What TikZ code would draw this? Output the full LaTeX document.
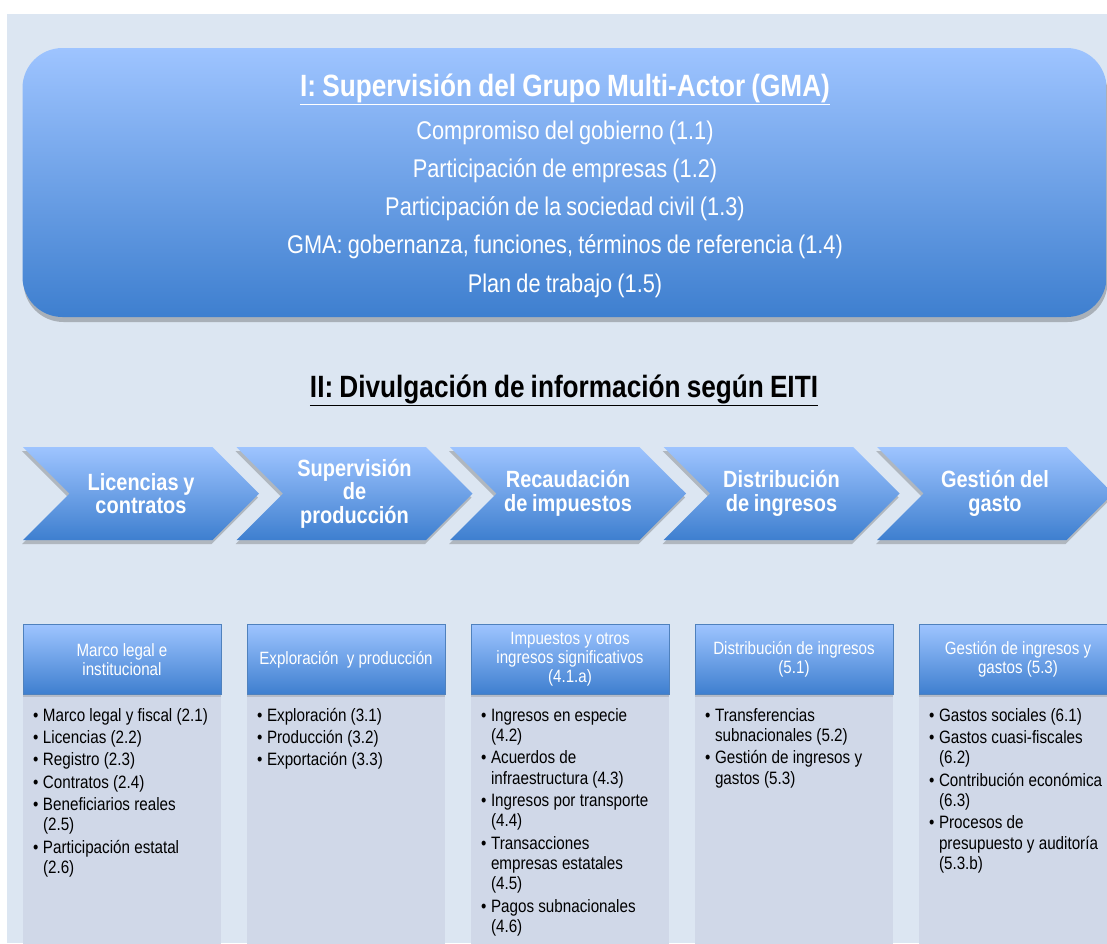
\documentclass[tikz,border=0pt]{standalone}
\usepackage{fontspec}
\setmainfont{Liberation Sans}[FakeStretch=0.85, WordSpace=0.85]
\usetikzlibrary{shapes.symbols, shadows, positioning}

\definecolor{pagebg}{RGB}{220,230,242}
\definecolor{colbg}{RGB}{208,216,232}
\definecolor{gradtop}{RGB}{158,196,255}
\definecolor{gradbot}{RGB}{62,127,207}
\definecolor{headline}{RGB}{79,129,189}

% one bullet item with hanging indent
\newcommand{\bul}[1]{\par\noindent\hangindent=10pt\hangafter=1\rightskip=0pt plus 1fil\relax\parfillskip=0pt plus 1fil\relax
  \makebox[10pt][l]{\textbullet}\strut#1\par}

\begin{document}
\begin{tikzpicture}[x=1pt, y=-1pt,
  gmabox/.style={rectangle, rounded corners=40pt, minimum width=1084pt, minimum height=269pt, top color=gradtop, bottom color=gradbot, draw=none, drop shadow={shadow xshift=1pt, shadow yshift=-5pt, opacity=0.35, fill=black!70}},
  bigtitle/.style={font=\bfseries\fontsize{30.8}{34}\selectfont, inner sep=0pt, anchor=base},
  gmaline/.style={font=\fontsize{25.6}{30}\selectfont, text=white, inner sep=0pt, anchor=base},
  chev/.style={signal, signal from=west, signal to=east, signal pointer angle=90, minimum width=236pt, minimum height=93pt, inner sep=2pt, top color=gradtop, bottom color=gradbot, draw=none, text=white, align=center, font=\bfseries\fontsize{23.5}{23.5}\selectfont, drop shadow={shadow xshift=-1pt, shadow yshift=-4pt, opacity=0.3, fill=black!70}},
  colbox/.style={rectangle, fill=colbg, minimum width=198pt, minimum height=260pt, inner sep=0pt},
  headbox/.style={rectangle, draw=headline, line width=0.8pt, top color=gradtop, bottom color=gradbot, minimum width=198pt, minimum height=70pt, text width=188pt, align=center, text=white, font=\fontsize{17.8}{19}\selectfont, inner sep=2pt, execute at begin node={\spaceskip=0.236em\relax\xspaceskip=0.236em\relax}, drop shadow={shadow xshift=0pt, shadow yshift=-3pt, opacity=0.25, fill=black!60}},
  listtxt/.style={text width=190pt, align=left, inner sep=0pt, font=\fontsize{17.9}{20.3}\selectfont\setlength{\parskip}{2pt}, execute at begin node={\spaceskip=0.236em\relax\xspaceskip=0.236em\relax}}
]
  \useasboundingbox (0,0) rectangle (1107,943);
  \fill[white] (0,0) rectangle (1107,943);
  \fill[pagebg] (7,14) rectangle (1107,943);

  % part I
  \node[gmabox] (gma) at (564.5,182.5) {};
  \node[bigtitle, text=white] (gmatitle) at (565,96) {\underline{I: Supervisión del Grupo Multi-Actor (GMA)}};
  \foreach \t [count=\k from 0] in {{Compromiso del gobierno (1.1)}, {Participación de empresas (1.2)}, {Participación de la sociedad civil (1.3)}, {GMA: gobernanza, funciones, términos de referencia (1.4)}, {Plan de trabajo (1.5)}}
    \node[gmaline] (gl\k) at (565,{139+38.3*\k}) {\t};

  % part II
  \node[bigtitle] (eiti) at (564,397) {\underline{II: Divulgación de información según EITI}};
  \foreach \t [count=\i] in {{Licencias y\\contratos}, {Supervisión\\de\\producción}, {Recaudación\\de impuestos}, {Distribución\\de ingresos}, {Gestión del\\gasto}}
    \node[chev] (chev\i) at ({141+213.5*(\i-1)},493.5) {\t};

  % columns
  \foreach \t [count=\i] in {{Marco legal e\\institucional}, {Exploración~ y producción}, {Impuestos y otros\\ingresos significativos\\(4.1.a)}, {Distribución de ingresos\\(5.1)}, {Gestión de ingresos y\\gastos (5.3)}}{
    \node[colbox] (col\i) at ({122+224*(\i-1)},825) {};
    \node[headbox, above=0pt of col\i] (head\i) {\t};
  }

  \node[listtxt, anchor=north west] (list1) at ([xshift=10pt, yshift=-4pt]col1.north west) {%
    \bul{Marco legal y fiscal (2.1)}
    \bul{Licencias (2.2)}
    \bul{Registro (2.3)}
    \bul{Contratos (2.4)}
    \bul{Beneficiarios reales\newline(2.5)}
    \bul{Participación estatal\newline(2.6)}};
  \node[listtxt, anchor=north west] (list2) at ([xshift=10pt, yshift=-4pt]col2.north west) {%
    \bul{Exploración (3.1)}
    \bul{Producción (3.2)}
    \bul{Exportación (3.3)}};
  \node[listtxt, anchor=north west] (list3) at ([xshift=10pt, yshift=-4pt]col3.north west) {%
    \bul{Ingresos en especie\newline(4.2)}
    \bul{Acuerdos de\newline infraestructura (4.3)}
    \bul{Ingresos por transporte\newline(4.4)}
    \bul{Transacciones\newline empresas estatales\newline(4.5)}
    \bul{Pagos subnacionales\newline(4.6)}};
  \node[listtxt, anchor=north west] (list4) at ([xshift=10pt, yshift=-4pt]col4.north west) {%
    \bul{Transferencias\newline subnacionales (5.2)}
    \bul{Gestión de ingresos y\newline gastos (5.3)}};
  \node[listtxt, anchor=north west] (list5) at ([xshift=10pt, yshift=-4pt]col5.north west) {%
    \bul{Gastos sociales (6.1)}
    \bul{Gastos cuasi-fiscales\newline(6.2)}
    \bul{Contribución económica\newline(6.3)}
    \bul{Procesos de\newline presupuesto y auditoría\newline(5.3.b)}};
\end{tikzpicture}
\end{document}
